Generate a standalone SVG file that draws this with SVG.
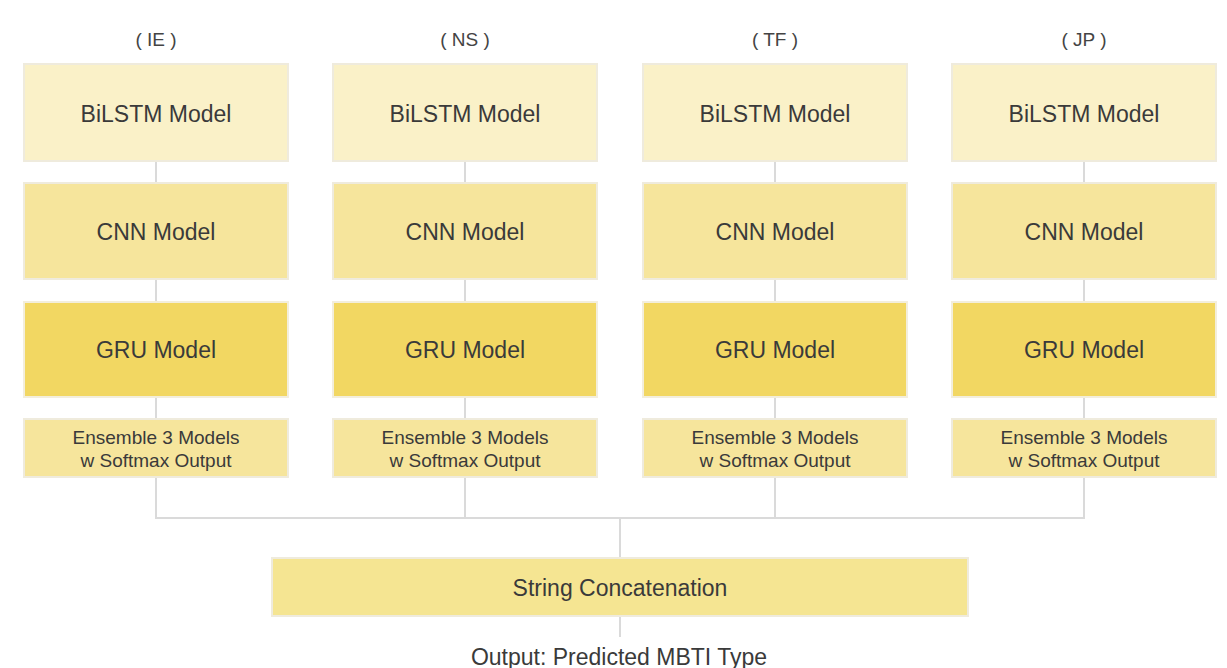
<svg xmlns="http://www.w3.org/2000/svg" width="1227" height="668" viewBox="0 0 1227 668">
<style>
text{font-family:"Liberation Sans",Arial,sans-serif;fill:#3a3a3a;text-anchor:middle}
.hdr{font-size:19px;fill:#444}
.big{font-size:23px}
.sm{font-size:19px}
.b{fill:#FAF1C8;stroke:#EFEBDD;stroke-width:2}
.c{fill:#F6E59C;stroke:#EFEBDD;stroke-width:2}
.g{fill:#F2D762;stroke:#F3EEDC;stroke-width:2}
.e{fill:#F6E59C;stroke:#EFEBDD;stroke-width:2}
.s{fill:#F5E592;stroke:#EFEBDD;stroke-width:2}
.ln{stroke:#DADADA;stroke-width:2;fill:none}
</style>
<rect width="1227" height="668" fill="#fff"/>
<g id="connectors">
<path class="ln" d="M156 162V182M156 280V301M156 398V418M156 478V518"/>
<path class="ln" d="M465 162V182M465 280V301M465 398V418M465 478V518"/>
<path class="ln" d="M775 162V182M775 280V301M775 398V418M775 478V518"/>
<path class="ln" d="M1084 162V182M1084 280V301M1084 398V418M1084 478V518"/>
<path class="ln" d="M155 518H1085M620 518V557M620 616V637"/>
</g>
<g id="col-ie">
<text class="hdr" x="156" y="46">( IE )</text>
<g id="ie-bilstm"><rect class="b" x="24" y="64" width="264" height="97"/><text class="big" x="156" y="122">BiLSTM Model</text></g>
<g id="ie-cnn"><rect class="c" x="24" y="183" width="264" height="96"/><text class="big" x="156" y="240">CNN Model</text></g>
<g id="ie-gru"><rect class="g" x="24" y="302" width="264" height="95"/><text class="big" x="156" y="358">GRU Model</text></g>
<g id="ie-ens"><rect class="e" x="24" y="419" width="264" height="58"/><text class="sm" x="156" y="444">Ensemble 3 Models</text><text class="sm" x="156" y="467">w Softmax Output</text></g>
</g>
<g id="col-ns">
<text class="hdr" x="465" y="46">( NS )</text>
<g id="ns-bilstm"><rect class="b" x="333" y="64" width="264" height="97"/><text class="big" x="465" y="122">BiLSTM Model</text></g>
<g id="ns-cnn"><rect class="c" x="333" y="183" width="264" height="96"/><text class="big" x="465" y="240">CNN Model</text></g>
<g id="ns-gru"><rect class="g" x="333" y="302" width="264" height="95"/><text class="big" x="465" y="358">GRU Model</text></g>
<g id="ns-ens"><rect class="e" x="333" y="419" width="264" height="58"/><text class="sm" x="465" y="444">Ensemble 3 Models</text><text class="sm" x="465" y="467">w Softmax Output</text></g>
</g>
<g id="col-tf">
<text class="hdr" x="775" y="46">( TF )</text>
<g id="tf-bilstm"><rect class="b" x="643" y="64" width="264" height="97"/><text class="big" x="775" y="122">BiLSTM Model</text></g>
<g id="tf-cnn"><rect class="c" x="643" y="183" width="264" height="96"/><text class="big" x="775" y="240">CNN Model</text></g>
<g id="tf-gru"><rect class="g" x="643" y="302" width="264" height="95"/><text class="big" x="775" y="358">GRU Model</text></g>
<g id="tf-ens"><rect class="e" x="643" y="419" width="264" height="58"/><text class="sm" x="775" y="444">Ensemble 3 Models</text><text class="sm" x="775" y="467">w Softmax Output</text></g>
</g>
<g id="col-jp">
<text class="hdr" x="1084" y="46">( JP )</text>
<g id="jp-bilstm"><rect class="b" x="952" y="64" width="264" height="97"/><text class="big" x="1084" y="122">BiLSTM Model</text></g>
<g id="jp-cnn"><rect class="c" x="952" y="183" width="264" height="96"/><text class="big" x="1084" y="240">CNN Model</text></g>
<g id="jp-gru"><rect class="g" x="952" y="302" width="264" height="95"/><text class="big" x="1084" y="358">GRU Model</text></g>
<g id="jp-ens"><rect class="e" x="952" y="419" width="264" height="58"/><text class="sm" x="1084" y="444">Ensemble 3 Models</text><text class="sm" x="1084" y="467">w Softmax Output</text></g>
</g>
<g id="concat"><rect class="s" x="272" y="558" width="696" height="58"/><text class="big" x="620" y="596">String Concatenation</text></g>
<g id="output"><text class="big" x="619" y="665">Output: Predicted MBTI Type</text></g>
</svg>
